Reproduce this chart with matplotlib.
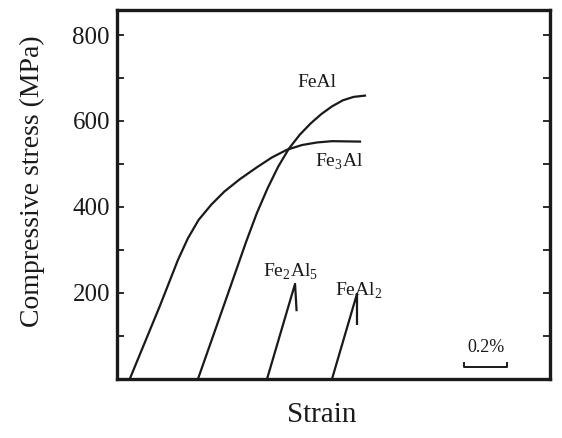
import matplotlib
matplotlib.use("Agg")
from matplotlib import pyplot as plt

# strain in %, stress in MPa
fe3al_strain = [0.060, 0.200, 0.284, 0.330, 0.380, 0.440, 0.500, 0.570, 0.650, 0.720, 0.790, 0.860, 0.930, 1.000, 1.130]
fe3al_stress = [0, 170, 277, 327, 370, 406, 436, 464, 492, 515, 533, 544, 550, 553, 552]

feal_strain = [0.377, 0.500, 0.600, 0.650, 0.700, 0.750, 0.800, 0.850, 0.900, 0.950, 1.000, 1.050, 1.100, 1.153]
feal_stress = [0, 175, 318, 385, 443, 494, 536, 568, 594, 616, 634, 648, 656, 659]

fe2al5_strain = [0.698, 0.828, 0.835]
fe2al5_stress = [0, 221, 160]

feal2_strain = [1.000, 1.116, 1.116]
feal2_stress = [0, 198, 128]

labels = ["FeAl", "Fe$_3$Al", "Fe$_2$Al$_5$", "FeAl$_2$"]
label_pos = [(0.837, 690), (0.921, 505), (0.679, 249), (1.014, 205)]

yticks = [200, 400, 600, 800]
yminor = [100, 300, 500, 700]

plt.rcParams['font.family'] = ['Liberation Serif', 'DejaVu Serif']
plt.rcParams['mathtext.fontset'] = 'custom'
plt.rcParams['mathtext.rm'] = 'Liberation Serif'

fig = plt.figure(figsize=(5.62, 4.38), dpi=100)
ax = fig.add_axes([0.208, 0.135, 0.771, 0.842])

ink = "#1a1a1a"
for xs, ys in [(fe3al_strain, fe3al_stress), (feal_strain, feal_stress),
               (fe2al5_strain, fe2al5_stress), (feal2_strain, feal2_stress)]:
    ax.plot(xs, ys, color=ink, lw=1.6, solid_joinstyle="round")

for text, (x, y) in zip(labels, label_pos):
    ax.text(x, y, text, fontsize=14, color=ink, va="center", ha="left")

# 0.2% scale bar
bar_x0, bar_len, bar_y = 1.615, 0.2, 28
ax.plot([bar_x0, bar_x0, bar_x0 + bar_len, bar_x0 + bar_len],
        [bar_y + 10, bar_y, bar_y, bar_y + 10], color=ink, lw=1.4)
ax.text(bar_x0 + bar_len / 2, bar_y + 25, "0.2%", fontsize=13, color=ink,
        ha="center", va="bottom")

ax.set_xlim(0, 2.014)
ax.set_ylim(0, 858)
ax.set_xticks([])
ax.set_yticks(yticks)
ax.set_yticks(yminor, minor=True)
ax.tick_params(axis="y", which="both", direction="in", right=True, length=5,
               width=1.3, color=ink, labelsize=18, labelcolor=ink, pad=5)
for sp in ax.spines.values():
    sp.set_linewidth(2.4)
    sp.set_color(ink)

ax.set_ylabel("Compressive stress (MPa)", fontsize=20, color=ink, labelpad=20)
ax.yaxis.label.set_y(0.537)
ax.set_xlabel("Strain", fontsize=21, color=ink, labelpad=17)
ax.xaxis.label.set_x(0.473)

fig.savefig("out.png", dpi=100)
